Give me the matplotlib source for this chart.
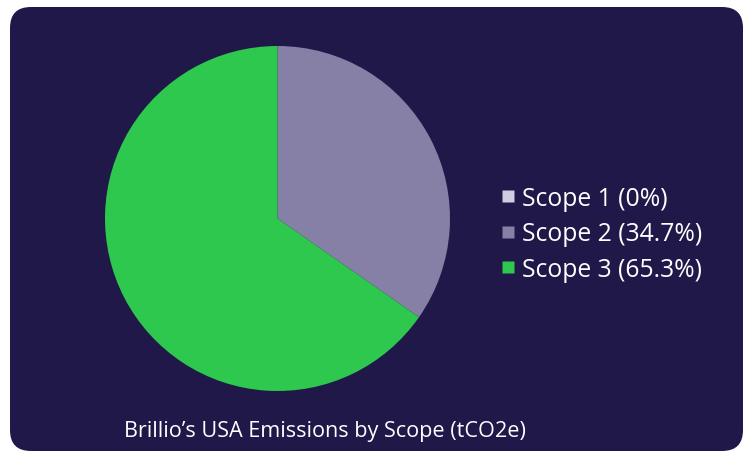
import matplotlib.pyplot as plt
from matplotlib.patches import FancyBboxPatch
from matplotlib.lines import Line2D

plt.rcParams['font.family'] = ['Open Sans', 'DejaVu Sans']

labels = ['Scope 1 (0%)', 'Scope 2 (34.7%)', 'Scope 3 (65.3%)']
values = [0, 34.7, 65.3]
colors = ['#cfcde1', '#8680a7', '#2dc84d']
title = 'Brillio\u2019s USA Emissions by Scope (tCO2e)'

W, H = 747, 452
fig = plt.figure(figsize=(W / 100, H / 100), dpi=100)
fig.patch.set_facecolor('white')

# dark rounded card behind everything
card = FancyBboxPatch((10 / W, 0 / H), 733 / W, 444 / H,
                      boxstyle='round,pad=0,rounding_size=0.028',
                      transform=fig.transFigure, facecolor='#201848',
                      edgecolor='none', mutation_aspect=W / H, zorder=-1)
fig.patches.append(card)

# pie: centre (277.5, 219.5) px, radius 172.5 px
r = 172.5
cx, cy = 277.5, H - 219.5
ax = fig.add_axes([(cx - r) / W, (cy - r) / H, 2 * r / W, 2 * r / H])
ax.pie(values, colors=colors, startangle=90, counterclock=False,
       wedgeprops=dict(linewidth=0))
ax.set_xlim(-1, 1)
ax.set_ylim(-1, 1)
ax.set_aspect('equal')
ax.axis('off')

handles = [Line2D([], [], marker='s', linestyle='none', markersize=8,
                  markerfacecolor=c, markeredgecolor='none') for c in colors]
fig.legend(handles, labels, loc='center left', bbox_to_anchor=(478 / W, 1 - 235 / H),
           frameon=False, labelcolor='white', fontsize=17.8, handlelength=0.6,
           handletextpad=0.3, labelspacing=0.42)

fig.text(325 / W, 1 - 432 / H, title, color='white', fontsize=15.6,
         ha='center', va='center')

fig.savefig('out.png', dpi=100, facecolor=fig.get_facecolor())
